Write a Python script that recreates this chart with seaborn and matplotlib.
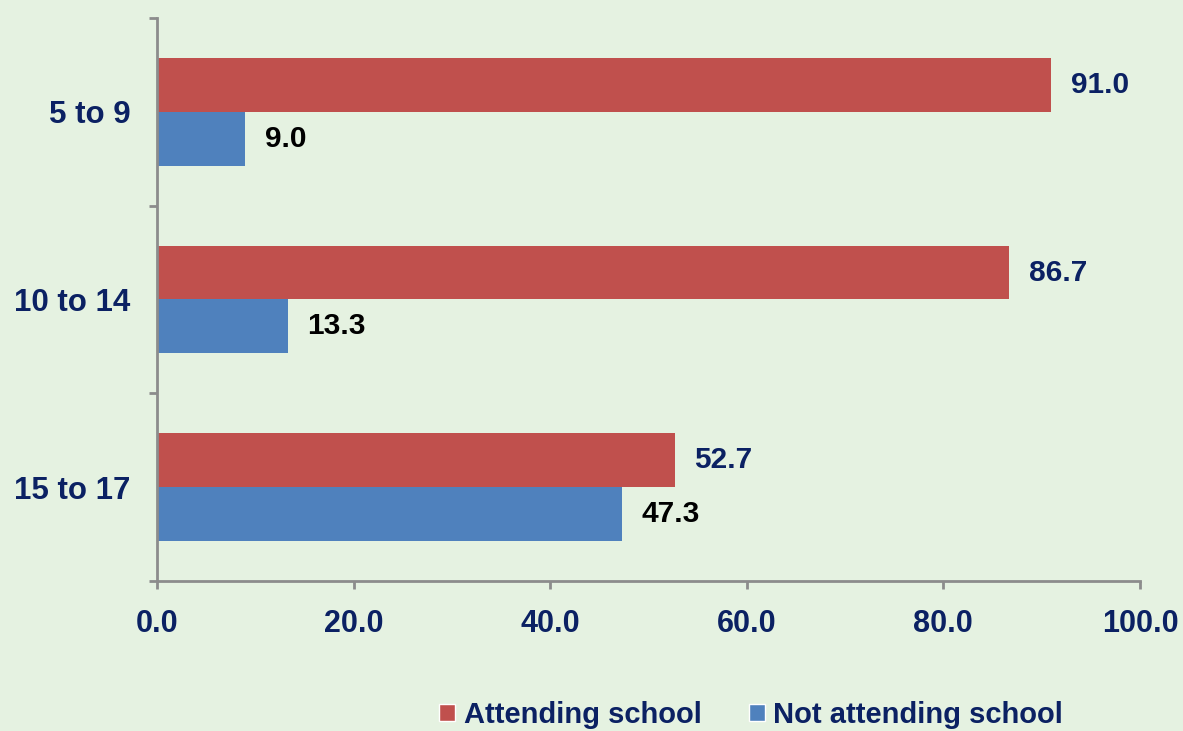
import pandas as pd
import seaborn as sns
import matplotlib.pyplot as plt
from matplotlib.patches import Patch

# data
age_groups = ['5 to 9', '10 to 14', '15 to 17']
attending = [91.0, 86.7, 52.7]
not_attending = [9.0, 13.3, 47.3]
series_names = ['Attending school', 'Not attending school']
x_ticks = [0, 20, 40, 60, 80, 100]

df = pd.DataFrame({
    'age': age_groups * 2,
    'pct': attending + not_attending,
    'status': [series_names[0]] * 3 + [series_names[1]] * 3,
})

navy = '#0b2163'
red = '#C0504D'
blue = '#4F81BD'
grey = '#8c8c8c'
bg = '#e5f2e1'

sns.set_theme(style='white')
plt.rcParams['font.family'] = ['Liberation Sans', 'DejaVu Sans']
plt.rcParams['font.weight'] = 'bold'

fig = plt.figure(figsize=(11.83, 7.31), dpi=100, facecolor=bg)
ax = fig.add_axes([0.1327, 0.2052, 0.8309, 0.7702])
ax.set_facecolor(bg)

sns.barplot(data=df, y='age', x='pct', hue='status', order=age_groups,
            hue_order=series_names, palette=[red, blue], orient='h',
            width=0.575, saturation=1, linewidth=0, ax=ax, legend=False)

# value labels
for cont, col in zip(ax.containers, [navy, 'black']):
    for bar in cont:
        w = bar.get_width()
        ax.annotate(f'{w:.1f}', (w, bar.get_y() + bar.get_height() / 2),
                    xytext=(14, 0), textcoords='offset points', va='center',
                    ha='left', fontsize=21.5, fontweight='bold', color=col)

ax.set_xlim(0, 100)
ax.set_ylim(2.5, -0.5)
ax.set_xticks(x_ticks)
ax.set_xticklabels([f'{t:.1f}' for t in x_ticks])
ax.set_yticks(range(len(age_groups)))
ax.set_yticklabels(age_groups)
ax.set_yticks([-0.5, 0.5, 1.5, 2.5], minor=True)
ax.set_xlabel('')
ax.set_ylabel('')

for s in ['top', 'right']:
    ax.spines[s].set_visible(False)
for s in ['left', 'bottom']:
    ax.spines[s].set_color(grey)
    ax.spines[s].set_linewidth(2)

ax.tick_params(axis='y', which='major', length=0, pad=19, labelsize=22.5,
               labelcolor=navy)
ax.tick_params(axis='y', which='minor', length=6, width=2, color=grey, left=True)
ax.tick_params(axis='x', length=6, width=2, color=grey, bottom=True, pad=14,
               labelsize=22, labelcolor=navy)
for lab in ax.get_xticklabels() + ax.get_yticklabels():
    lab.set_fontweight('bold')

handles = [Patch(facecolor=red), Patch(facecolor=blue)]
leg = fig.legend(handles, series_names, loc='center', bbox_to_anchor=(0.635, 0.022),
                 ncol=2, frameon=False, handlelength=0.55,
                 handleheight=0.55, handletextpad=0.3, columnspacing=1.6,
                 prop={'weight': 'bold', 'size': 21})
for t in leg.get_texts():
    t.set_color(navy)

fig.savefig('out.png', dpi=100, facecolor=bg)
